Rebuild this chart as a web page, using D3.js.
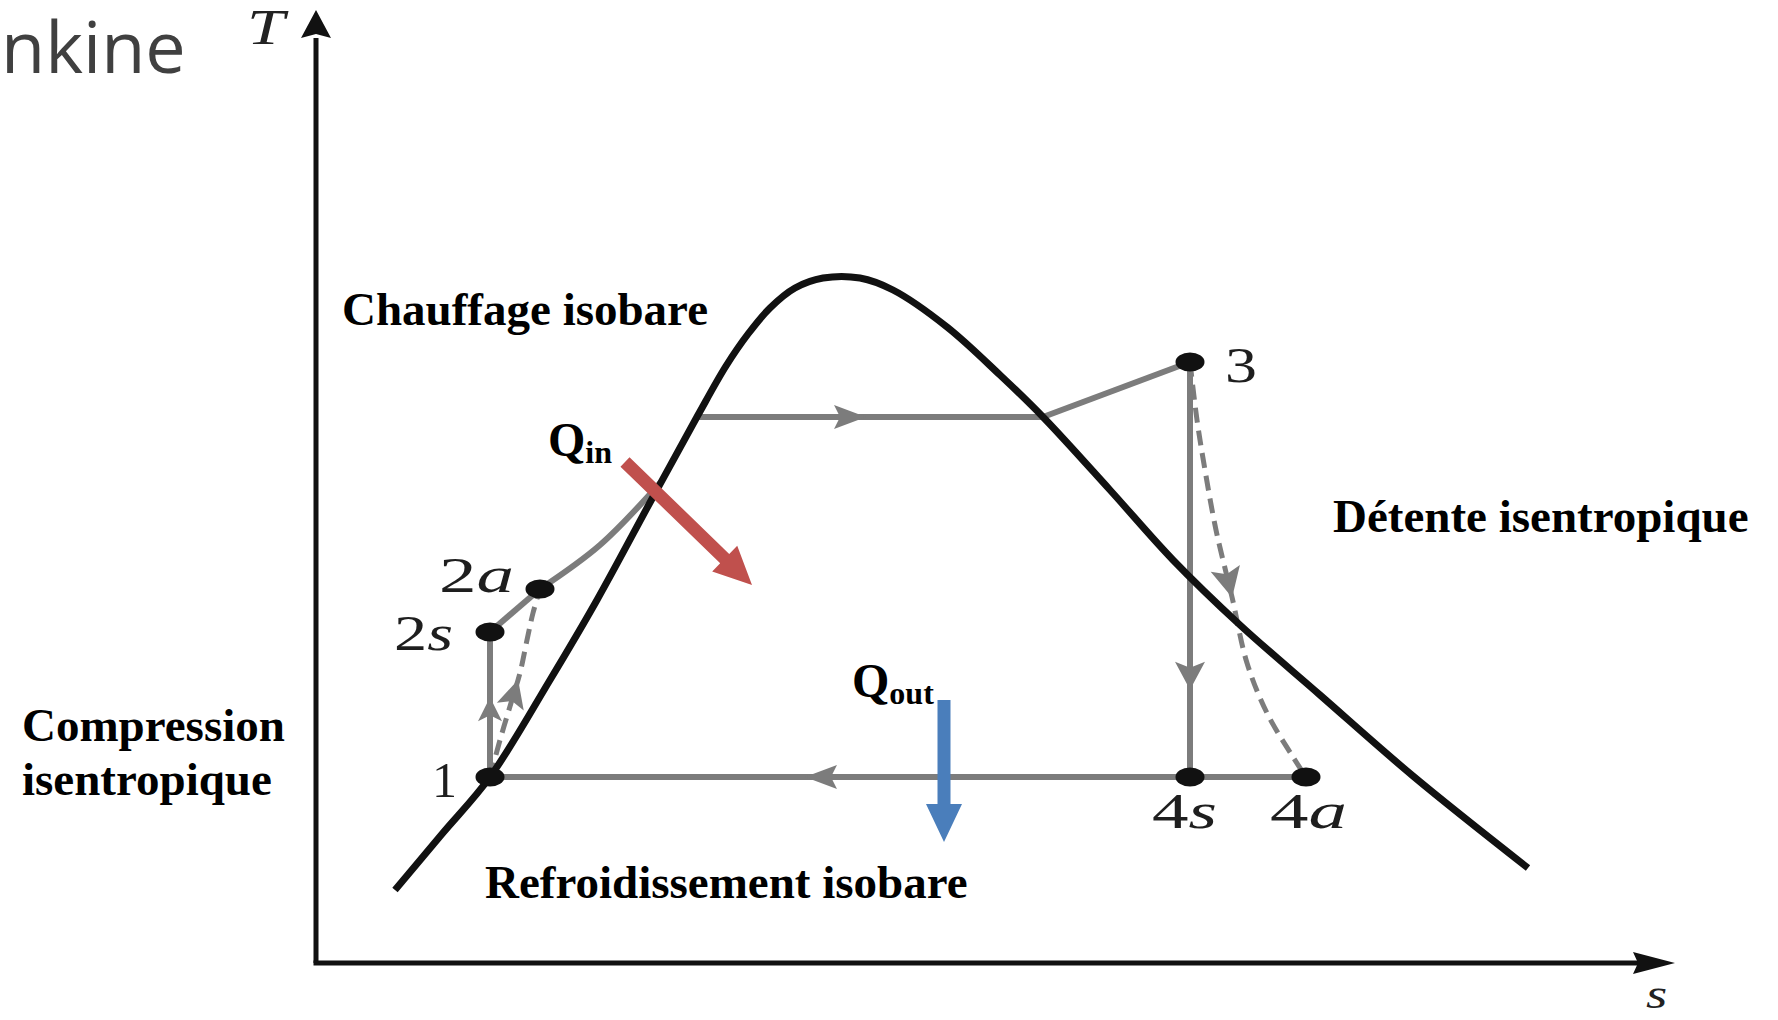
<!DOCTYPE html>
<html><head><meta charset="utf-8">
<script src="https://cdn.jsdelivr.net/npm/d3@7"></script>
<style>html,body{margin:0;padding:0;background:#fff;overflow:hidden}</style>
</head><body>
<svg id="c" width="1778" height="1020"></svg>
<script>
// ---- data (arbitrary entropy / temperature units) ----
const domeS = [79,126,174,234,281,337,382,410,432,454,479,507,544,577,631,684,727,794,857,924,1004,1097,1212];
const domeT = [73,129,186,283,363,466,548,597,629,655,675,685,685,673,636,588,546,473,403,338,268,187,95];
const stateNames = ["1","2s","2a","3","4s","4a"];
const stateS = [174,174,224,874,874,990];
const stateT = [186,331,374,601,186,186];
const heatS = [224,284,345];
const heatT = [374,418,481];
const boilS = [380,727];
const boilT = [546,546];
const superS = [727,874];
const superT = [546,601];
const compS = [174,184,195,204,211,217,224];
const compT = [186,223,260,290,323,350,374];
const expS = [874,881,889,900,916,931,951,977,990];
const expT = [601,543,493,433,366,300,250,206,186];
const qinS = [309,436], qinT = [501,378];
const qoutS = [628,628], qoutT = [263,121];
const axisLabels = ["T","s"];
const processLabels = ["Chauffage isobare","Détente isentropique","Compression","isentropique","Refroidissement isobare"];
const qLabels = [["Q","in"],["Q","out"]];
const titleText = "nkine";

// ---- scales ----
const x = d3.scaleLinear().domain([0,1360]).range([316,1676]);
const y = d3.scaleLinear().domain([0,953]).range([963,10]);
const svg = d3.select("#c");
const zip = (a,b) => a.map((v,i)=>[v,b[i]]);
const st = i => [stateS[i], stateT[i]];

const lineLin = d3.line().x(d=>x(d[0])).y(d=>y(d[1]));
const lineCurve = d3.line().x(d=>x(d[0])).y(d=>y(d[1])).curve(d3.curveCatmullRom.alpha(0.5));

const GRAY = "#7c7c7c";

// title
svg.append("text").attr("x",1).attr("y",73)
  .attr("font-family","'Open Sans', sans-serif").attr("font-size",72)
  .attr("fill","#404040").text(titleText);

// axes
const AX = "#111";
svg.append("line").attr("x1",x(0)).attr("y1",y(0)).attr("x2",x(0)).attr("y2",y(925))
  .attr("stroke",AX).attr("stroke-width",5);
svg.append("line").attr("x1",x(0)-2.5).attr("y1",y(0)).attr("x2",x(1322)).attr("y2",y(0))
  .attr("stroke",AX).attr("stroke-width",5);
svg.append("path").attr("fill",AX)
  .attr("d",`M${x(0)},${y(953)} L${x(0)+15},${y(925)} L${x(0)},${y(929)} L${x(0)-15},${y(925)} Z`);
svg.append("path").attr("fill",AX)
  .attr("d",`M${x(1359)},${y(0)} L${x(1317)},${y(0)+11} L${x(1322)},${y(0)} L${x(1317)},${y(0)-11} Z`);
const tg = svg.append("g").attr("transform","translate(247,44) scale(1.35,1)");
tg.append("text").attr("x",0).attr("y",0)
  .attr("font-family","'Liberation Serif', serif").attr("font-style","italic")
  .attr("font-size",50).attr("fill","#222").text(axisLabels[0]);
const sg = svg.append("g").attr("transform","translate(1646,1008) scale(1.3,1)");
sg.append("text").attr("x",0).attr("y",0)
  .attr("font-family","'Liberation Serif', serif").attr("font-style","italic")
  .attr("font-size",42).attr("fill","#222").text(axisLabels[1]);

// process lines (gray)
function grayPath(pts, curved, dashed){
  return svg.append("path").attr("d",(curved?lineCurve:lineLin)(pts))
    .attr("fill","none").attr("stroke",GRAY).attr("stroke-width",dashed?5:6)
    .attr("stroke-dasharray",dashed?"15,8":null).attr("stroke-linecap","butt");
}
function arrowOn(p, frac, len, hw){
  const node = p.node(); const L = node.getTotalLength();
  const a = node.getPointAtLength(frac*L), b = node.getPointAtLength(frac*L-2);
  const ang = Math.atan2(a.y-b.y, a.x-b.x);
  const ux=Math.cos(ang), uy=Math.sin(ang);
  const bx=a.x-len*ux, by=a.y-len*uy;
  svg.append("path").attr("fill",GRAY)
    .attr("d",`M${a.x},${a.y} L${bx-hw*uy},${by+hw*ux} L${bx+ux*6},${by+uy*6} L${bx+hw*uy},${by-hw*ux} Z`);
}

const p12s = grayPath([st(0),st(1)], false, false);
const p2s2a = grayPath([st(1),st(2)], false, false);
const pHeat = grayPath(zip(heatS,heatT), true, false);
const pBoil = grayPath(zip(boilS,boilT), false, false);
const pSup = grayPath(zip(superS,superT), false, false);
const p34s = grayPath([st(3),st(4)], false, false);
const pCool = grayPath([st(5),st(0)], false, false);
const pComp = grayPath(zip(compS,compT), true, true);
const pExp = grayPath(zip(expS,expT), true, true);

arrowOn(p12s, 0.55, 24, 12);
arrowOn(pComp, 0.52, 28, 14);
arrowOn(pBoil, 0.49, 32, 12);
arrowOn(p34s, 0.79, 28, 15);
arrowOn(pExp, 0.55, 30, 15);
arrowOn(pCool, 0.614, 32, 12);

// saturation dome
svg.append("path").attr("d",lineCurve(zip(domeS,domeT)))
  .attr("fill","none").attr("stroke","#111").attr("stroke-width",7)
  .attr("stroke-linecap","butt");

// state points
svg.selectAll("ellipse.st").data(stateNames).join("ellipse")
  .attr("cx",(d,i)=>x(stateS[i])).attr("cy",(d,i)=>y(stateT[i]))
  .attr("rx",14.5).attr("ry",9.5).attr("fill","#111");

// state labels: [dx of left edge, dy baseline, target width]
const labelPos = {"1":[-58,20,25],"2s":[-96,18,59],"2a":[-101,3,75],"3":[35,20,32],"4s":[-38,51,65],"4a":[-36,51,77]};
stateNames.forEach((n,i)=>{
  const [dx,dy,w] = labelPos[n];
  const g = svg.append("g");
  const t = g.append("text").attr("font-family","'Liberation Serif', serif")
    .attr("font-size",50).attr("fill","#1e1e1e");
  t.append("tspan").text(n[0]);
  if(n.length>1) t.append("tspan").attr("font-style","italic").text(n.slice(1));
  const nat = t.node().getComputedTextLength();
  g.attr("transform",`translate(${x(stateS[i])+dx},${y(stateT[i])+dy}) scale(${w/nat},1)`);
});

// process labels
const LF = "'Liberation Serif', 'Times New Roman', serif";
const procPos = [[342,325],[1333,532],[22,741],[22,795],[485,898]];
processLabels.forEach((t,i)=>{
  svg.append("text").attr("x",procPos[i][0]).attr("y",procPos[i][1])
    .attr("font-family",LF).attr("font-weight","bold").attr("font-size",47)
    .attr("fill","#000").text(t);
});

// heat arrows
function blockArrow(s, T, color){
  const x1=x(s[0]), y1=y(T[0]), x2=x(s[1]), y2=y(T[1]);
  const ang=Math.atan2(y2-y1,x2-x1), ux=Math.cos(ang), uy=Math.sin(ang);
  const hl=38, hw=18, sw=6.5;
  const bx=x2-hl*ux, by=y2-hl*uy;
  const px=-uy, py=ux;
  const pts=[[x1+sw*px,y1+sw*py],[bx+sw*px,by+sw*py],[bx+hw*px,by+hw*py],[x2,y2],
             [bx-hw*px,by-hw*py],[bx-sw*px,by-sw*py],[x1-sw*px,y1-sw*py]];
  svg.append("path").attr("fill",color).attr("d","M"+pts.map(p=>p.join(",")).join("L")+"Z");
}
blockArrow(qinS,qinT,"#c0504d");
blockArrow(qoutS,qoutT,"#4a7ebb");

// Q labels
const qPos = [[548,456],[852,697]];
qLabels.forEach((q,i)=>{
  const t = svg.append("text").attr("x",qPos[i][0]).attr("y",qPos[i][1])
    .attr("font-family",LF).attr("font-weight","bold").attr("font-size",48).attr("fill","#000");
  t.append("tspan").text(q[0]);
  t.append("tspan").attr("font-size",32).attr("dy",7).text(q[1]);
});
</script>
</body></html>
